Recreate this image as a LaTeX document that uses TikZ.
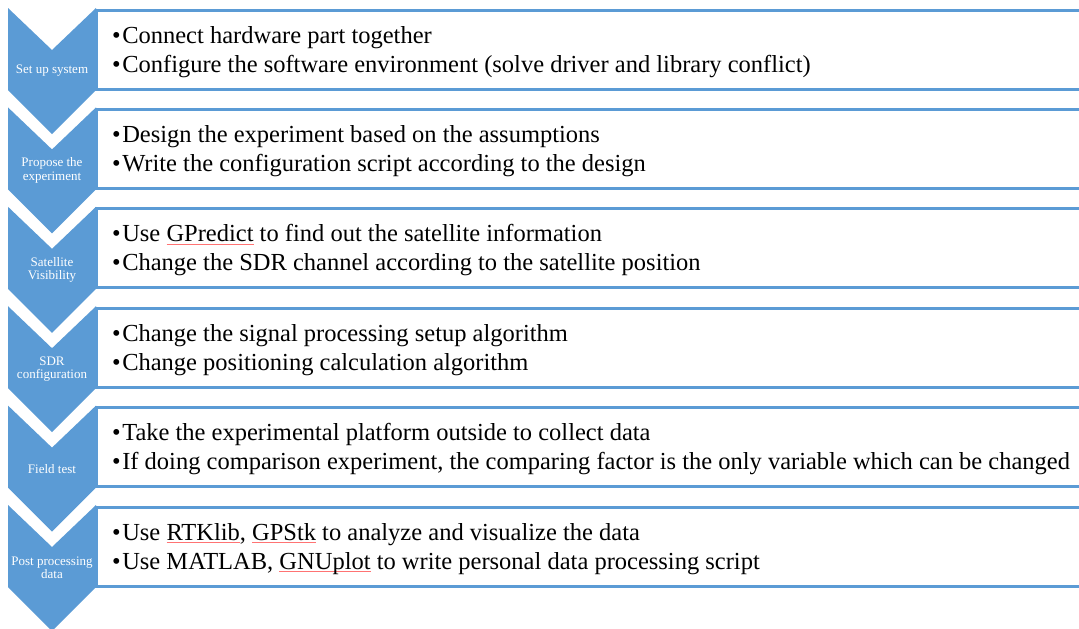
\documentclass[tikz,border=0pt]{standalone}
\usepackage{fontspec}
\setmainfont{Liberation Serif}
\usepackage{xcolor}
\usetikzlibrary{positioning}

\definecolor{stepblue}{HTML}{5B9BD5}
\newcommand{\spellerr}[1]{\leavevmode\setbox0\hbox{#1}%
  \rlap{\color{red!55}\rule[-3pt]{\wd0}{0.7pt}}\box0\relax}

\begin{document}
\begin{tikzpicture}[
  x=1pt, y=-1pt,
  chev/.style={fill=stepblue},
  box/.style={draw=stepblue, line width=3pt},
  lbl/.style={text=white, align=center, inner sep=0pt,
    font=\fontsize{13}{13.5}\selectfont},
  item/.style={anchor=base west, inner sep=0pt,
    font=\fontsize{24.5}{29}\selectfont}
]
  \useasboundingbox (0,0) rectangle (1079,629);
  \clip (0,0) rectangle (1079,629);

  % chevrons
  \fill[chev] (8,8) -- (52,50) -- (96,8) -- (96,90) -- (52,134) -- (8,90) -- cycle;
  \fill[chev] (8,107.4) -- (52,149.4) -- (96,107.4) -- (96,189.4) -- (52,233.4) -- (8,189.4) -- cycle;
  \fill[chev] (8,206.8) -- (52,248.8) -- (96,206.8) -- (96,288.8) -- (52,332.8) -- (8,288.8) -- cycle;
  \fill[chev] (8,306.2) -- (52,348.2) -- (96,306.2) -- (96,388.2) -- (52,432.2) -- (8,388.2) -- cycle;
  \fill[chev] (8,405.6) -- (52,447.6) -- (96,405.6) -- (96,487.6) -- (52,531.6) -- (8,487.6) -- cycle;
  \fill[chev] (8,505) -- (52,547) -- (96,505) -- (96,587) -- (52,631) -- (8,587) -- cycle;

  % boxes
  \draw[box] (96,10) rectangle (1090,89);
  \draw[box] (96,109.4) rectangle (1090,188.4);
  \draw[box] (96,208.8) rectangle (1090,287.8);
  \draw[box] (96,308.2) rectangle (1090,387.2);
  \draw[box] (96,407.6) rectangle (1090,486.6);
  \draw[box] (96,507) rectangle (1090,586);

  % step labels
  \node[lbl] (setup) at (52,71) {Set up system};
  \node[lbl] (propose) at (52,170.4) {Propose the\\experiment};
  \node[lbl] (visib) at (52,269.8) {Satellite\\Visibility};
  \node[lbl] (sdrcfg) at (52,369.2) {SDR\\configuration};
  \node[lbl] (field) at (52,468.6) {Field test};
  \node[lbl] (post) at (52,568) {Post processing\\data};

  % bullet items
  \node[item] (t1a) at (112,43) {\textbullet\hspace{1.5pt}Connect hardware part together};
  \node[item] (t1b) at (112,72) {\textbullet\hspace{1.5pt}Configure the software environment (solve driver and library conflict)};
  \node[item] (t2a) at (112,142.4) {\textbullet\hspace{1.5pt}Design the experiment based on the assumptions};
  \node[item] (t2b) at (112,171.4) {\textbullet\hspace{1.5pt}Write the configuration script according to the design};
  \node[item] (t3a) at (112,241.8) {\textbullet\hspace{1.5pt}Use \spellerr{GPredict} to find out the satellite information};
  \node[item] (t3b) at (112,270.8) {\textbullet\hspace{1.5pt}Change the SDR channel according to the satellite position};
  \node[item] (t4a) at (112,341.2) {\textbullet\hspace{1.5pt}Change the signal processing setup algorithm};
  \node[item] (t4b) at (112,370.2) {\textbullet\hspace{1.5pt}Change positioning calculation algorithm};
  \node[item] (t5a) at (112,440.6) {\textbullet\hspace{1.5pt}Take the experimental platform outside to collect data};
  \node[item] (t5b) at (112,469.6) {\textbullet\hspace{1.5pt}If doing comparison experiment, the comparing factor is the only variable which can be changed};
  \node[item] (t6a) at (112,540) {\textbullet\hspace{1.5pt}Use \spellerr{RTKlib}, \spellerr{GPStk} to analyze and visualize the data};
  \node[item] (t6b) at (112,569) {\textbullet\hspace{1.5pt}Use MATLAB, \spellerr{GNUplot} to write personal data processing script};
\end{tikzpicture}
\end{document}
